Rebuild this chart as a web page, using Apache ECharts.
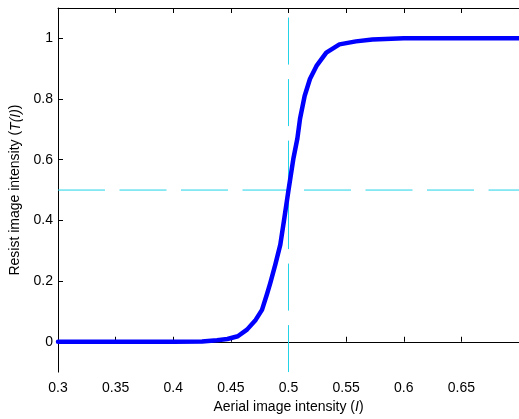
<!DOCTYPE html>
<html>
<head>
<meta charset="utf-8">
<script src="https://cdn.jsdelivr.net/npm/echarts@6/dist/echarts.min.js"></script>
<style>
  html, body { margin: 0; padding: 0; background: #fff; }
  #chart { width: 519px; height: 419px; }
</style>
</head>
<body>
<div id="chart"></div>
<script>
// Resist response T(I) versus aerial image intensity I
const aerialIntensity = [0.3, 0.35, 0.4, 0.425, 0.438, 0.447, 0.456, 0.464, 0.4715, 0.477, 0.4815, 0.4843,
  0.4886, 0.4929, 0.4965, 0.5, 0.5043, 0.5077, 0.510, 0.514, 0.5186, 0.5243, 0.5328, 0.5442, 0.5585,
  0.5728, 0.6, 0.65, 0.7];
const resistIntensity = [0, 0, 0, 0.001, 0.005, 0.009, 0.018, 0.04, 0.072, 0.105, 0.159, 0.195,
  0.255, 0.32, 0.41, 0.5, 0.605, 0.67, 0.735, 0.81, 0.866, 0.909, 0.953, 0.98, 0.99,
  0.996, 1, 1, 1];

// Threshold guides at I = 0.5 and T = 0.5
const threshold = 0.5;

// Axis ranges and tick labels
const xRange = [0.3, 0.7];
const yRange = [-0.1, 1.1];
const xTicks = [0.3, 0.35, 0.4, 0.45, 0.5, 0.55, 0.6, 0.65];
const yTicks = [0, 0.2, 0.4, 0.6, 0.8, 1];

const font = 'Liberation Sans, Arial, Helvetica, sans-serif';
const curve = aerialIntensity.map((x, i) => [x, resistIntensity[i]]);
const dashStyle = { color: '#22d3e8', width: 1, type: [47, 14.5] };

const chart = echarts.init(document.getElementById('chart'), null, { renderer: 'canvas' });
chart.setOption({
  animation: false,
  backgroundColor: '#fff',
  grid: { left: 58, top: 8, width: 467, height: 370, containLabel: false },
  xAxis: [{
    type: 'value', position: 'bottom', min: xRange[0], max: xRange[1], interval: 0.05,
    name: 'Aerial image intensity ({i|I})', nameLocation: 'middle', nameGap: 22,
    nameTextStyle: { fontFamily: font, fontSize: 14, color: '#000',
      rich: { i: { fontFamily: font, fontSize: 14, fontStyle: 'italic', color: '#000' } } },
    axisLine: { lineStyle: { color: '#000', width: 1 } },
    axisTick: { inside: true, length: 5, customValues: xTicks, lineStyle: { color: '#000' } },
    axisLabel: { customValues: xTicks, margin: 9, fontFamily: font, fontSize: 14, color: '#000',
      formatter: v => String(+v.toFixed(2)) },
    splitLine: { show: false }
  }, {
    type: 'value', position: 'top', min: xRange[0], max: xRange[1], interval: 0.05,
    axisLine: { lineStyle: { color: '#000', width: 1 } },
    axisTick: { inside: true, length: 5, customValues: xTicks, lineStyle: { color: '#000' } },
    axisLabel: { show: false },
    splitLine: { show: false }
  }],
  yAxis: {
    type: 'value', min: yRange[0], max: yRange[1], interval: 0.1,
    name: 'Resist image intensity ({i|T(I)})', nameLocation: 'middle', nameGap: 30,
    nameTextStyle: { fontFamily: font, fontSize: 14, color: '#000',
      rich: { i: { fontFamily: font, fontSize: 14, fontStyle: 'italic', color: '#000' } } },
    axisLine: { lineStyle: { color: '#000', width: 1 } },
    axisTick: { inside: true, length: 5, customValues: yTicks, lineStyle: { color: '#000' } },
    axisLabel: { customValues: yTicks, margin: 5, fontFamily: font, fontSize: 14, color: '#000',
      formatter: v => String(+v.toFixed(2)) },
    splitLine: { show: false }
  },
  series: [{
    type: 'line', name: 'threshold-x', xAxisIndex: 0, silent: true, symbol: 'none',
    data: [[threshold, yRange[0]], [threshold, yRange[1]]],
    lineStyle: dashStyle, z: 1
  }, {
    type: 'line', name: 'threshold-y', xAxisIndex: 0, silent: true, symbol: 'none',
    data: [[xRange[0], threshold], [xRange[1], threshold]],
    lineStyle: dashStyle, z: 1
  }, {
    type: 'line', name: 'T(I)', xAxisIndex: 0, symbol: 'none', smooth: false,
    data: curve,
    lineStyle: { color: '#0000ff', width: 4.5, cap: 'round', join: 'round' }, z: 3
  }]
});
</script>
</body>
</html>
